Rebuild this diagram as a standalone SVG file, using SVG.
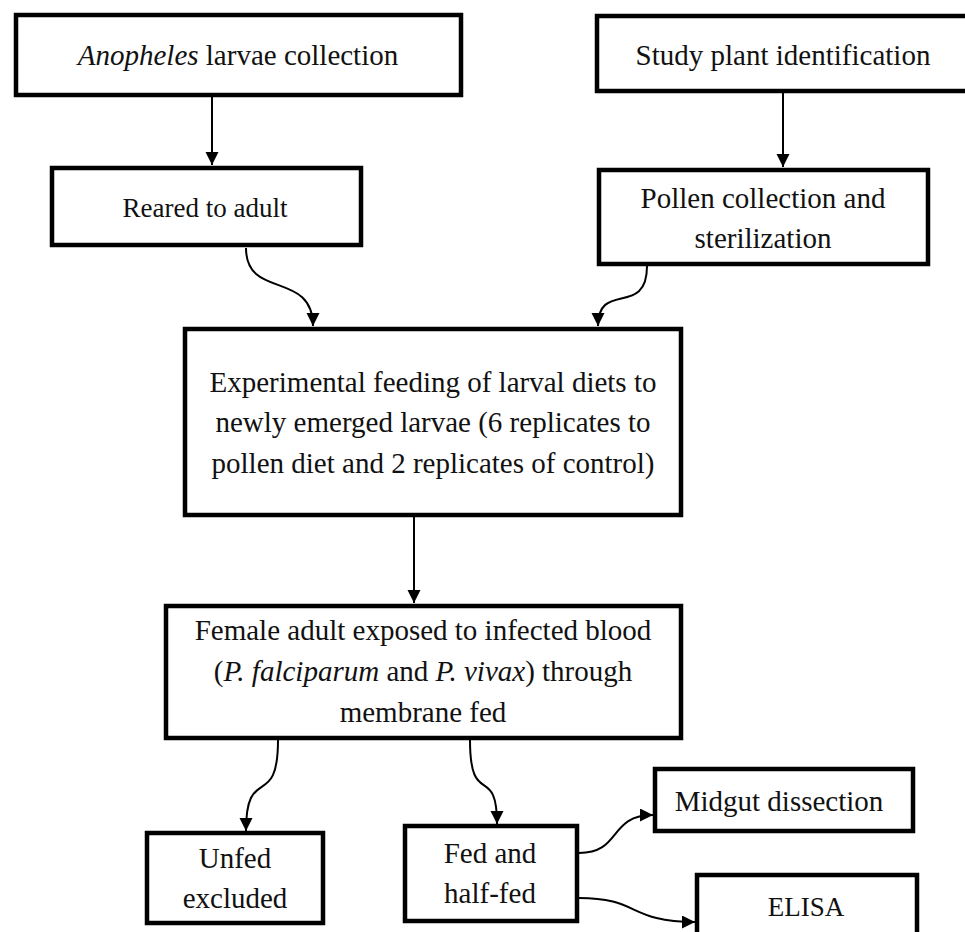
<svg xmlns="http://www.w3.org/2000/svg" width="965" height="932" viewBox="0 0 965 932">
<defs>
<style>
.box{fill:#fff;stroke:#000;stroke-width:4.5;}
text{font-family:'Liberation Serif','Tinos','Times New Roman','DejaVu Serif',serif;font-size:29px;fill:#111;text-anchor:middle;}
.i{font-style:italic;}
.c{fill:none;stroke:#000;stroke-width:2;}
</style>
<marker id="ah" markerWidth="14" markerHeight="14" refX="13" refY="6.5" orient="auto" markerUnits="userSpaceOnUse">
<path d="M0,0 L13,6.5 L0,13 z" fill="#000"/>
</marker>
</defs>
<rect width="965" height="932" fill="#fff"/>
<g id="connectors">
<path class="c" d="M212,97 L212,165" marker-end="url(#ah)"/>
<path class="c" d="M783,93 L783,167" marker-end="url(#ah)"/>
<path class="c" d="M246,248 C246,300 313,270 313,326" marker-end="url(#ah)"/>
<path class="c" d="M647,266 C647,318 598,280 598,326" marker-end="url(#ah)"/>
<path class="c" d="M414,517 L414,603" marker-end="url(#ah)"/>
<path class="c" d="M278,740 C278,812 246,762 246,831" marker-end="url(#ah)"/>
<path class="c" d="M470,740 C470,810 497,762 497,824" marker-end="url(#ah)"/>
<path class="c" d="M579,853 C622,853 608,815 653,815" marker-end="url(#ah)"/>
<path class="c" d="M579,898 C640,898 628,922 695,922" marker-end="url(#ah)"/>
</g>
<g id="n-anopheles">
<rect class="box" x="16" y="15" width="445" height="80"/>
<text x="238" y="65" font-family="Liberation Serif, serif"><tspan class="i">Anopheles</tspan> larvae collection</text>
</g>
<g id="n-reared">
<rect class="box" x="52" y="168" width="309" height="77"/>
<text x="205" y="217" style="font-size:27px">Reared to adult</text>
</g>
<g id="n-study">
<rect class="box" x="597" y="16" width="380" height="75"/>
<text x="783" y="65">Study plant identification</text>
</g>
<g id="n-pollen">
<rect class="box" x="599" y="170" width="329" height="94"/>
<text x="763" y="208">Pollen collection and</text>
<text x="763" y="248">sterilization</text>
</g>
<g id="n-experimental">
<rect class="box" x="185" y="329" width="496" height="186"/>
<text x="433" y="392">Experimental feeding of larval diets to</text>
<text x="433" y="432">newly emerged larvae (6 replicates to</text>
<text x="433" y="473">pollen diet and 2 replicates of control)</text>
</g>
<g id="n-female">
<rect class="box" x="166" y="606" width="515" height="132"/>
<text x="423" y="640">Female adult exposed to infected blood</text>
<text x="423" y="681">(<tspan class="i">P. falciparum</tspan> and <tspan class="i">P. vivax</tspan>) through</text>
<text x="423" y="722">membrane fed</text>
</g>
<g id="n-unfed">
<rect class="box" x="147" y="833" width="176" height="90"/>
<text x="235" y="868">Unfed</text>
<text x="235" y="908">excluded</text>
</g>
<g id="n-fed">
<rect class="box" x="405" y="826" width="172" height="95"/>
<text x="490" y="863">Fed and</text>
<text x="490" y="903">half-fed</text>
</g>
<g id="n-midgut">
<rect class="box" x="655" y="769" width="258" height="62"/>
<text x="779" y="811">Midgut dissection</text>
</g>
<g id="n-elisa">
<rect class="box" x="697" y="875" width="220" height="70"/>
<text x="806" y="916" style="font-size:27px">ELISA</text>
</g>
</svg>
